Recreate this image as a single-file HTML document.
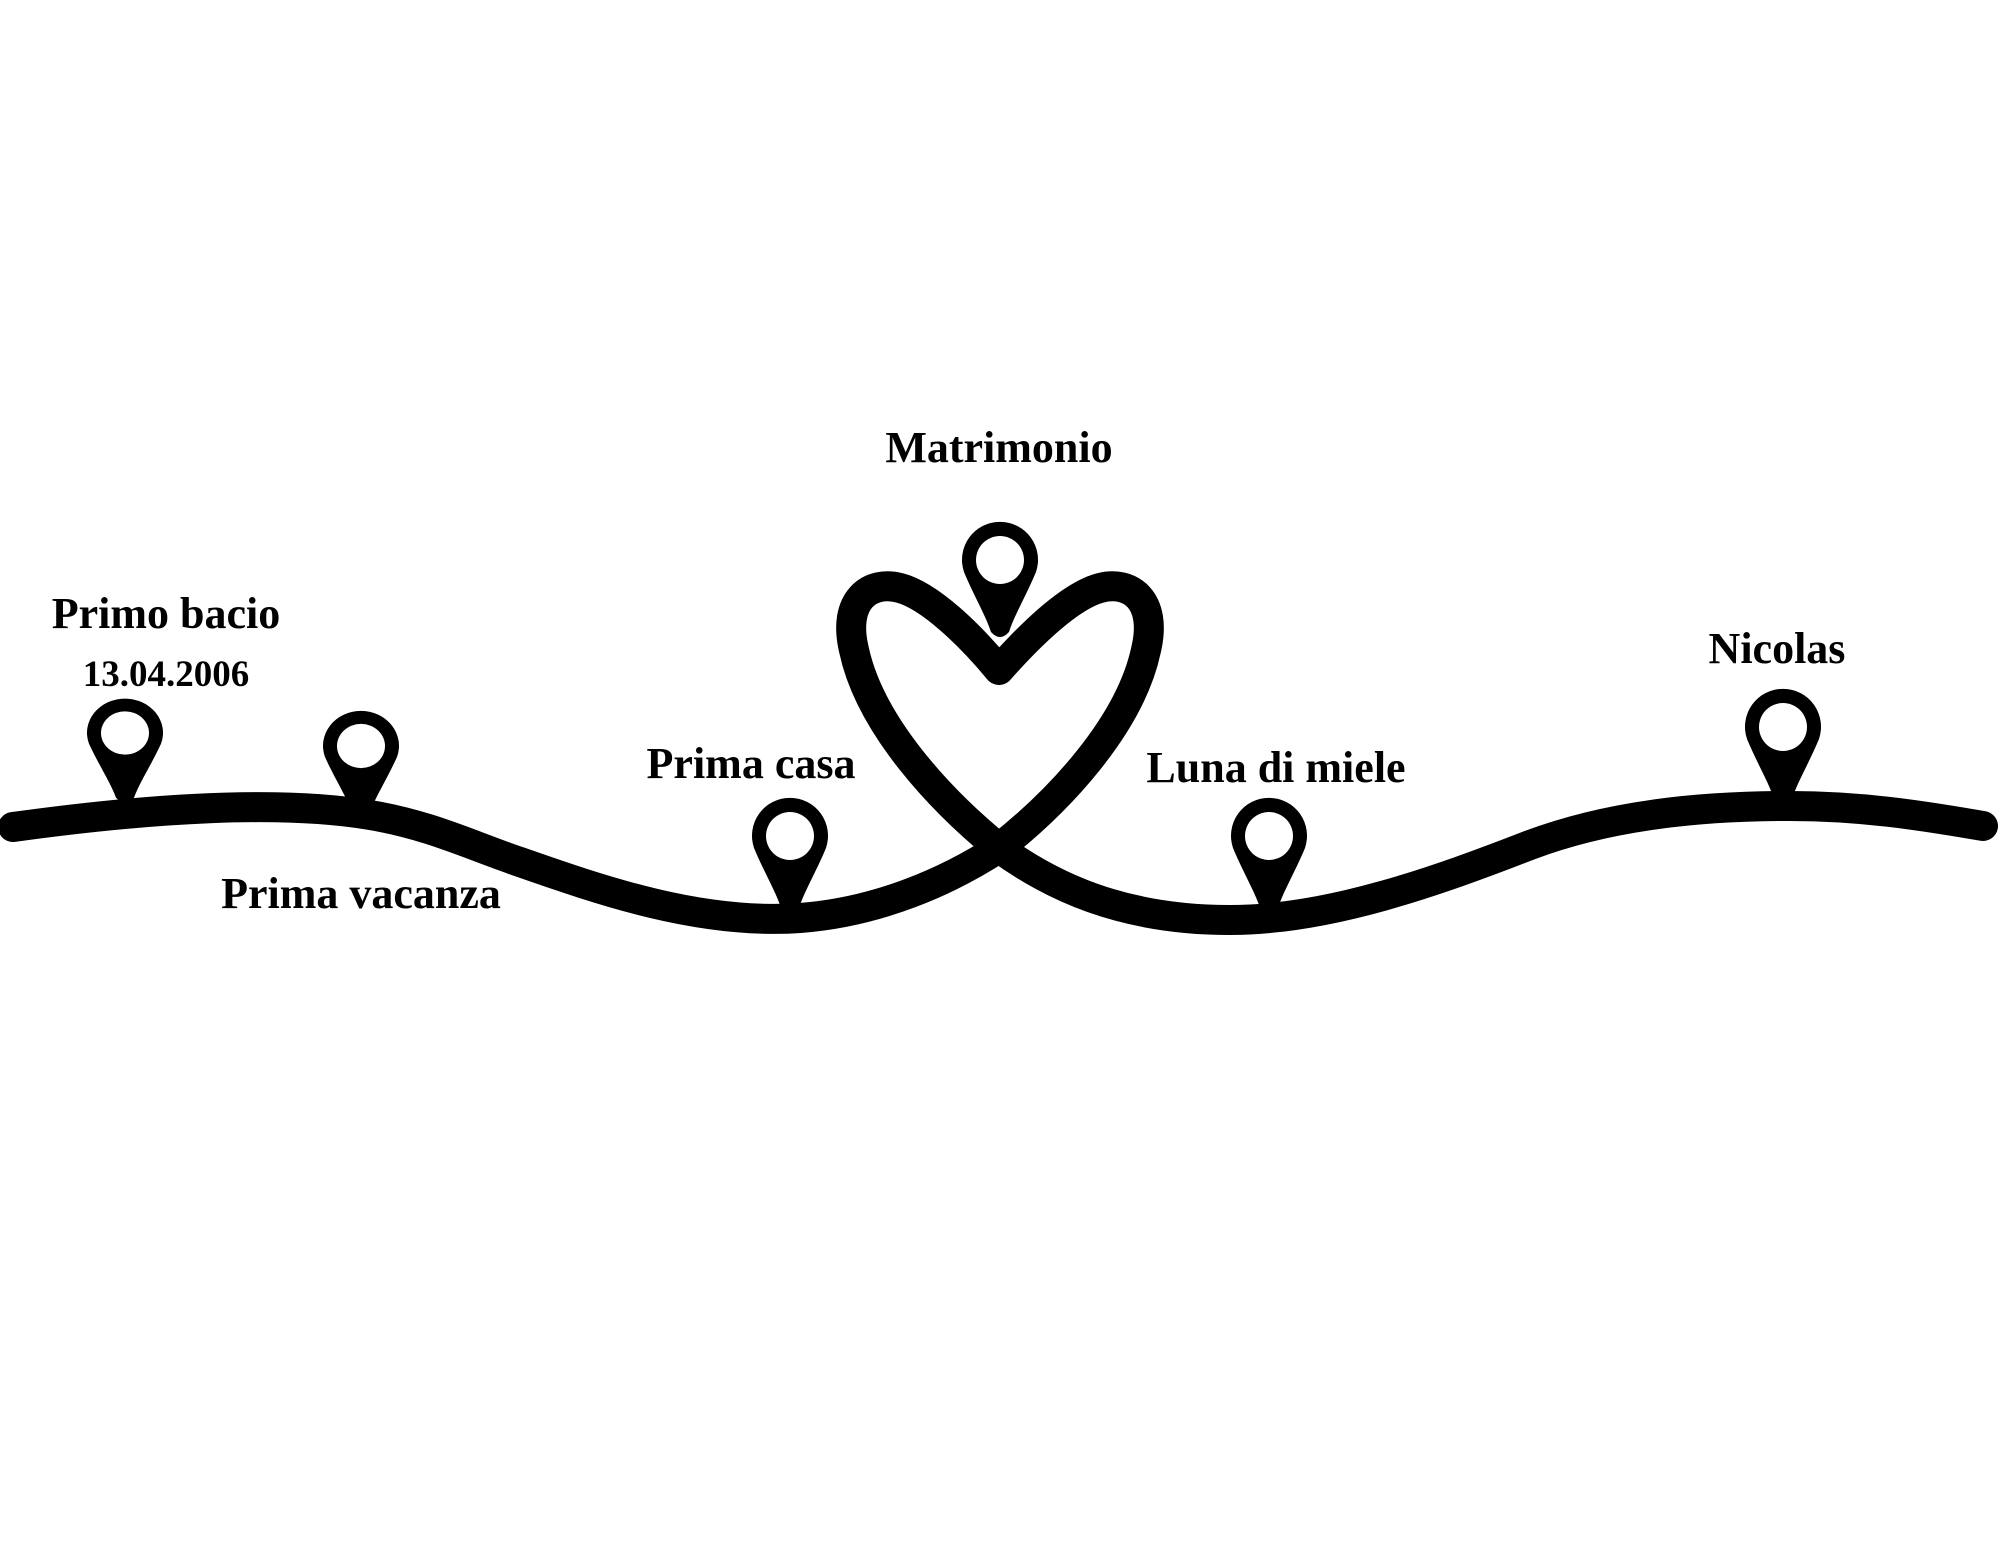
<!DOCTYPE html>
<html><head><meta charset="utf-8"><style>
html,body{margin:0;padding:0;background:#fff;}
svg{display:block}
text{font-family:"Liberation Serif",serif;font-weight:bold;fill:#000;text-anchor:middle}
</style></head><body>
<svg width="2000" height="1543" viewBox="0 0 2000 1543">
<path d="M13,827 C150,808 280,800 370,815 C430,825 470,845 520,862 C600,890 700,925 800,918 C880,912 950,880 999,848 C1060,800 1130,725 1146,650 C1158,600 1130,580 1100,588 C1070,596 1030,635 999,670 C970,635 930,596 900,588 C870,580 842,600 854,650 C870,725 940,800 999,848 C1050,885 1120,920 1230,920 C1330,920 1440,880 1530,845 C1610,815 1700,806 1790,806 C1860,806 1920,815 1983,826" fill="none" stroke="#000" stroke-width="30" stroke-linecap="round" stroke-linejoin="round"/>
<defs>
<g id="pin">
<path d="M-36,12 A38,38 0 1 1 36,12 C26,36 14,56 9,72 Q0,82 -9,72 C-14,56 -26,36 -36,12 Z" fill="#000"/>
<circle cx="0" cy="0" r="24" fill="#fff"/>
</g>
</defs>
<use href="#pin" transform="translate(125,733) scale(1,0.9)"/>
<use href="#pin" transform="translate(361,746) scale(1,0.92)"/>
<use href="#pin" transform="translate(790,836)"/>
<use href="#pin" transform="translate(1000,560)"/>
<use href="#pin" transform="translate(1269,836)"/>
<use href="#pin" transform="translate(1783,727)"/>
<text x="166" y="628" font-size="44">Primo bacio</text>
<text x="166" y="686" font-size="37">13.04.2006</text>
<text x="361" y="908" font-size="44">Prima vacanza</text>
<text x="751" y="778" font-size="44">Prima casa</text>
<text x="999" y="462" font-size="44">Matrimonio</text>
<text x="1276" y="782" font-size="44">Luna di miele</text>
<text x="1777" y="663" font-size="44">Nicolas</text>
</svg>
</body></html>
